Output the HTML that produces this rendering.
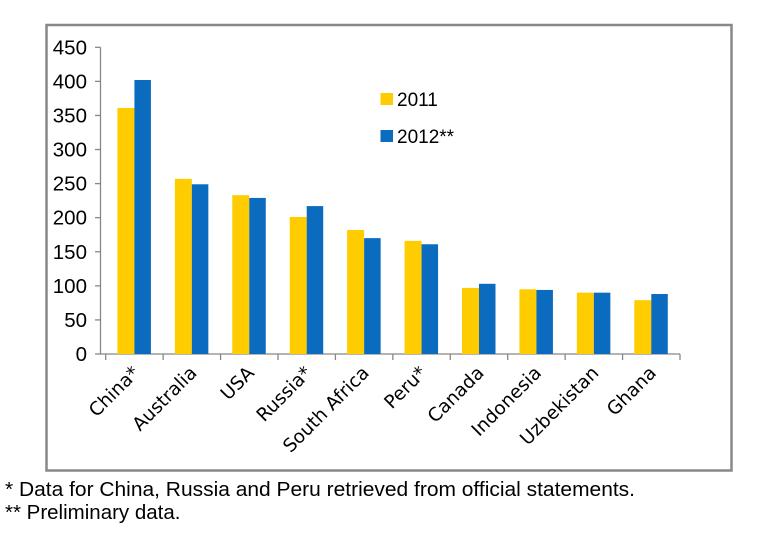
<!DOCTYPE html>
<html><head><meta charset="utf-8"><style>
body{margin:0;background:#fff;width:766px;height:542px;overflow:hidden}
svg{display:block}
</style></head><body>
<svg id="chart" width="766" height="542" xmlns="http://www.w3.org/2000/svg">
<rect x="46.5" y="25" width="685" height="445.5" fill="#fff" stroke="#888" stroke-width="2.5"/>
<g id="grid"></g>
<g id="bars"></g>
<g id="xlabels"></g>
<g>
<rect x="380.5" y="93" width="12.5" height="12" fill="#FFCC00"/>
<text x="397" y="106" font-family="Liberation Sans, sans-serif" font-size="19" fill="#000">2011</text>
<rect x="380.5" y="130" width="12.5" height="12" fill="#0A6BBF"/>
<text x="397" y="143" font-family="Liberation Sans, sans-serif" font-size="19" fill="#000">2012**</text>
</g>
<text x="5" y="496" font-family="Liberation Sans, sans-serif" font-size="20.5" fill="#000" textLength="630" lengthAdjust="spacingAndGlyphs">* Data for China, Russia and Peru retrieved from official statements.</text>
<text x="5" y="519" font-family="Liberation Sans, sans-serif" font-size="20.5" fill="#000">** Preliminary data.</text>
</svg>
<script>
const categories=["China*","Australia","USA","Russia*","South Africa","Peru*","Canada","Indonesia","Uzbekistan","Ghana"];
const values2011=[361,257,233,201,182,166,97,95,90,79];
const values2012=[402,249,229,217,170,161,103,94,90,88];
const yTicks=[0,50,100,150,200,250,300,350,400,450];
const NS="http://www.w3.org/2000/svg";
const x0=105.7,x1=680,y0=354,yTop=47.3,vmax=450;
const bw=(x1-x0)/categories.length;
function y(v){return y0-(v/vmax)*(y0-yTop);}
function xc(i){return x0+bw*(i+0.5);}
function mk(tag,attrs,parent){const e=document.createElementNS(NS,tag);for(const k in attrs)e.setAttribute(k,attrs[k]);parent.appendChild(e);return e;}
const grid=document.getElementById('grid'),bars=document.getElementById('bars'),xl=document.getElementById('xlabels');
let ax=mk('line',{x1:100.5,y1:yTop,x2:100.5,y2:y0,stroke:'#888','stroke-width':1.3},grid);


let bx=mk('line',{x1:100,y1:y0,x2:x1,y2:y0,stroke:'#888','stroke-width':1.3},grid);


yTicks.forEach(t=>{
 let tk=mk('line',{x1:95,y1:y(t),x2:100.5,y2:y(t),stroke:'#888','stroke-width':1.3},grid);
 
 
 let tx=mk('text',{x:87,y:y(t)+7,'text-anchor':'end','font-family':'Liberation Sans, sans-serif','font-size':'20.5',fill:'#000'},grid);
 tx.textContent=t;
 
 
});
for(let i=0;i<=categories.length;i++){
 let tk=mk('line',{x1:x0+bw*i,y1:y0,x2:x0+bw*i,y2:y0+6,stroke:'#888','stroke-width':1.3},grid);
 
 
}
categories.forEach((c,i)=>{
 let cx=xc(i);
 let a=mk('rect',{x:cx-17,y:y(values2011[i]),width:17,height:y0-y(values2011[i]),fill:'#FFCC00'},bars);
 
 
 let b=mk('rect',{x:cx,y:y(values2012[i]),width:16.5,height:y0-y(values2012[i]),fill:'#0A6BBF'},bars);
 
 
 let t=mk('text',{x:cx+6,y:374,'text-anchor':'end','font-family':'DejaVu Sans, sans-serif','font-size':'18.5',fill:'#000',transform:`rotate(-45 ${cx+6} 374)`},xl);
 t.textContent=c;
 
 
});
</script>
</body></html>
